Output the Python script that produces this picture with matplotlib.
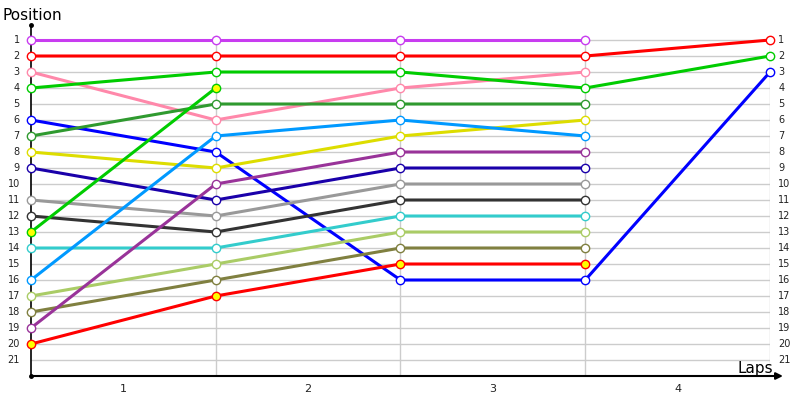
import matplotlib
matplotlib.use("Agg")
import matplotlib.pyplot as plt
import numpy as np

laps = [0, 1, 2, 3, 4]
lap_labels = ["1", "2", "3", "4"]
positions_axis = list(range(1, 22))

# positions at each lap boundary
series_names = ["purple", "red", "pink", "green", "blue", "darkgreen", "yellow",
                "navy", "gray", "darkgray", "green_y", "cyan", "lightblue",
                "lightgreen", "olive", "purple2", "red_y"]
series_pos = {
    "purple":     [1, 1, 1, 1],
    "red":        [2, 2, 2, 2, 1],
    "pink":       [3, 6, 4, 3],
    "green":      [4, 3, 3, 4, 2],
    "blue":       [6, 8, 16, 16, 3],
    "darkgreen":  [7, 5, 5, 5],
    "yellow":     [8, 9, 7, 6],
    "navy":       [9, 11, 9, 9],
    "gray":       [11, 12, 10, 10],
    "darkgray":   [12, 13, 11, 11],
    "green_y":    [13, 4],
    "cyan":       [14, 14, 12, 12],
    "lightblue":  [16, 7, 6, 7],
    "lightgreen": [17, 15, 13, 13],
    "olive":      [18, 16, 14, 14],
    "purple2":    [19, 10, 8, 8],
    "red_y":      [20, 17, 15, 15],
}
series_color = {
    "purple": "#c83cf0", "red": "#ff0000", "pink": "#ff88aa", "green": "#00cc00",
    "blue": "#0000ff", "darkgreen": "#2f9a2f", "yellow": "#dddd00",
    "navy": "#1a00aa", "gray": "#999999", "darkgray": "#333333",
    "green_y": "#00cc00", "cyan": "#33cccc", "lightblue": "#0099ff",
    "lightgreen": "#aacc66", "olive": "#808040", "purple2": "#993399",
    "red_y": "#ff0000",
}
series_face = {n: "white" for n in series_names}
series_face["green_y"] = "#ffff00"
series_face["red_y"] = "#ffff00"

fig = plt.figure(figsize=(8, 4), dpi=100)
ax = fig.add_axes([31/800, 24/400, (770-31)/800, (376-24)/400])
ax.set_xlim(0, 4)
ax.set_ylim(22, 0)

grid_c = "#cccccc"
for p in positions_axis:
    ax.plot([0, 4], [p, p], color=grid_c, lw=1, zorder=1)
for x in laps[1:4]:
    ax.plot([x, x], [0.75, 22], color=grid_c, lw=1, zorder=1)
ax.plot([4, 4], [1, 22], color=grid_c, lw=1, zorder=1)

for n in series_names:
    ys = series_pos[n]
    xs = laps[:len(ys)]
    ax.plot(xs, ys, color=series_color[n], lw=2.2, zorder=3,
            marker="o", markersize=6, markerfacecolor=series_face[n],
            markeredgecolor=series_color[n], markeredgewidth=1.0,
            solid_capstyle="butt", clip_on=False)

for s in ax.spines.values():
    s.set_visible(False)
ax.set_xticks([])
ax.set_yticks([])

# left axis line with dot
ax.plot([0, 0], [0.06, 22], color="black", lw=1.2, clip_on=False, zorder=2)
ax.plot([0], [0.06], marker="o", color="black", markersize=2.5, clip_on=False, zorder=2)
# bottom axis with arrow
ax.annotate("", xy=(4.07, 22), xytext=(0, 22),
            arrowprops=dict(arrowstyle="-|>", color="black", lw=1.5,
                            mutation_scale=10, shrinkA=0, shrinkB=0),
            annotation_clip=False, zorder=4)
ax.plot([0], [22], marker="o", color="black", markersize=2.5, clip_on=False, zorder=4)

for p in positions_axis:
    ax.text(-0.06, p, str(p), ha="right", va="center", fontsize=7, color="#222222")
    ax.text(4.045, p, str(p), ha="left", va="center", fontsize=7, color="#222222")

for i, lab in enumerate(lap_labels):
    ax.text(i + 0.5, 22.5, lab, ha="center", va="top", fontsize=8, color="#222222")

fig.text(3/800, 1 - 15/400, "Position", ha="left", va="center", fontsize=11)
ax.text(3.92, 21.5, "Laps", ha="center", va="center", fontsize=11)

fig.savefig("out.png", dpi=100)
